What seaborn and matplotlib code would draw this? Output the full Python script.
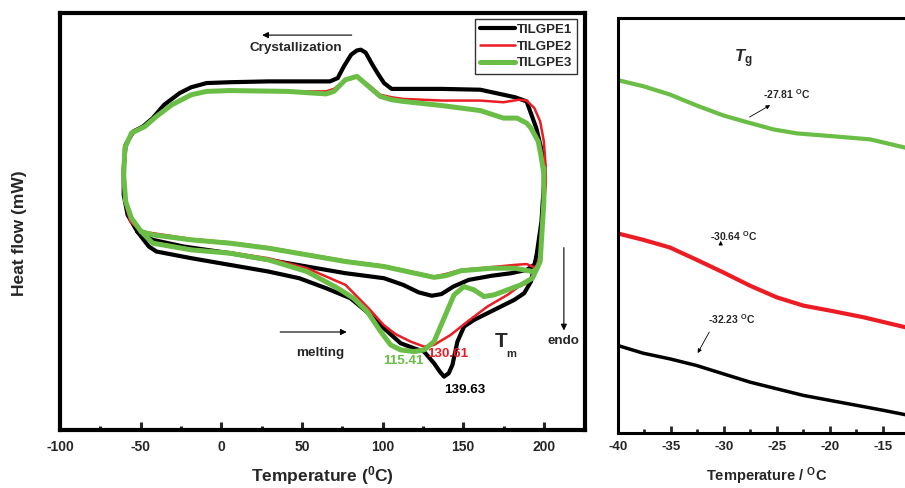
import numpy as np
import pandas as pd
import matplotlib
matplotlib.use("Agg")
import matplotlib.pyplot as plt
import seaborn as sns
from matplotlib.lines import Line2D
from matplotlib.ticker import MultipleLocator

# ---------------- data (left panel: DSC loops) ----------------
series_names = ["TILGPE1", "TILGPE2", "TILGPE3"]
series_colors = ["#000000", "#ec1c24", "#6abd45"]
series_widths = [3.0, 1.8, 3.6]

# TILGPE1
t1_cool = [200.0, 198.8, 195.3, 189.3, 182.1, 160.6, 136.7, 115.2, 105.6, 100.9, 97.0, 93.7,
           89.5, 86.5, 84.0, 80.5, 76.0, 72.2, 67.4, 48.3, 29.2, 5.3, -9.1, -18.6, -25.8,
           -35.4, -42.5, -48.5, -54.5, -59.3, -60.5, -60.5, -58.1, -52.1]
hf1_cool = [6.28, 6.68, 7.24, 7.88, 7.98, 8.16, 8.18, 8.18, 8.18, 8.32, 8.55, 8.76,
            9.05, 9.12, 9.10, 9.00, 8.72, 8.44, 8.36, 8.36, 8.36, 8.34, 8.32, 8.22, 8.08,
            7.80, 7.48, 7.28, 7.16, 6.84, 6.28, 5.64, 5.16, 4.76]
t1_heat_a = [-52.1, -44.9, -40.2, -18.6, 5.3, 29.2, 48.3, 65.0, 80.1, 91.3, 100.8, 111.2,
             119.5, 125.7, 131.9, 135.5, 138.1, 141.0, 143.3, 146.4, 150.5, 156.7, 165.0,
             173.3, 181.6, 187.8, 192.0, 195.5, 198.5, 200.0, 200.0]
hf1_heat_a = [4.76, 4.40, 4.28, 4.12, 3.96, 3.80, 3.64, 3.40, 3.16, 2.80, 2.44, 2.08,
              1.96, 1.88, 1.60, 1.40, 1.28, 1.36, 1.56, 2.12, 2.48, 2.64, 2.80,
              2.96, 3.12, 3.28, 3.56, 4.20, 5.00, 5.88, 6.28]
t1_heat_b = [-52.1, -42.5, -23.4, 5.3, 29.2, 53.1, 77.0, 100.9, 112.8, 122.4, 130.5, 136.5,
             143.9, 153.4, 167.8, 179.7, 189.3, 194.8, 195.3]
hf1_heat_b = [4.76, 4.56, 4.40, 4.24, 4.08, 3.92, 3.76, 3.64, 3.48, 3.30, 3.22, 3.26,
              3.44, 3.60, 3.70, 3.76, 3.84, 3.98, 4.15]

# TILGPE2
t2_cool = [201.2, 200.0, 197.7, 194.1, 189.3, 184.5, 174.9, 160.6, 136.7, 112.8, 105.6, 98.5,
           91.3, 84.1, 77.0, 69.8, 65.0, 41.1, 5.3, -9.1, -18.6, -30.6, -40.2, -47.3, -55.7,
           -59.8, -60.8, -59.8, -56.5, -49.7]
hf2_cool = [6.28, 6.92, 7.40, 7.72, 7.90, 7.92, 7.86, 7.90, 7.90, 7.94, 7.98, 8.04,
            8.28, 8.48, 8.38, 8.18, 8.12, 8.12, 8.14, 8.12, 8.04, 7.80, 7.52, 7.28, 7.12,
            6.76, 6.12, 5.48, 5.00, 4.76]
t2_heat_a = [-49.7, -42.5, -18.6, 5.3, 29.2, 53.1, 77.0, 91.3, 100.6, 108.0, 117.4, 125.7,
             131.9, 142.2, 152.6, 165.0, 177.4, 184.5, 189.5, 194.0, 197.5, 201.2, 201.2]
hf2_heat_a = [4.76, 4.50, 4.34, 4.26, 4.12, 3.88, 3.48, 2.92, 2.52, 2.30, 2.12, 2.00,
              2.04, 2.28, 2.60, 2.96, 3.24, 3.44, 3.52, 3.70, 4.20, 5.88, 6.28]
t2_heat_b = [-49.7, -42.5, -18.6, 5.3, 29.2, 53.1, 77.0, 100.9, 120.0, 131.9, 139.1, 148.7,
             160.6, 182.1, 189.3, 194.1, 196.0]
hf2_heat_b = [4.76, 4.72, 4.58, 4.50, 4.38, 4.22, 4.06, 3.94, 3.78, 3.68, 3.74, 3.84,
              3.88, 3.96, 3.98, 3.90, 3.96]

# TILGPE3
t3_cool = [200.0, 199.8, 198.1, 196.5, 192.0, 189.3, 183.3, 174.9, 160.6, 136.7, 112.8, 105.6,
           98.5, 91.3, 84.1, 77.0, 69.8, 65.0, 41.1, 5.3, -9.1, -18.6, -30.6, -40.2, -47.3,
           -55.7, -59.8, -60.5, -59.3, -55.7, -49.7]
hf3_cool = [6.28, 6.20, 6.60, 6.92, 7.24, 7.36, 7.48, 7.48, 7.66, 7.78, 7.88, 7.92,
            8.00, 8.24, 8.48, 8.40, 8.12, 8.06, 8.12, 8.14, 8.12, 8.04, 7.80, 7.52, 7.28,
            7.12, 6.76, 6.12, 5.48, 5.08, 4.76]
t3_heat_a = [-49.7, -42.5, -18.6, 5.3, 29.2, 53.1, 72.2, 82.0, 90.5, 98.8, 105.0, 111.2,
             119.5, 125.7, 131.9, 138.1, 144.3, 150.5, 156.7, 162.9, 169.1, 177.4, 185.7,
             192.9, 197.7, 200.0, 200.0]
hf3_heat_a = [4.76, 4.48, 4.32, 4.24, 4.08, 3.80, 3.40, 3.16, 2.84, 2.36, 2.04, 1.92,
              1.88, 1.92, 2.12, 2.68, 3.24, 3.44, 3.36, 3.20, 3.24, 3.36, 3.48,
              3.64, 4.04, 5.48, 6.28]
t3_heat_b = [-49.7, -42.5, -18.6, 5.3, 29.2, 53.1, 77.0, 100.9, 120.0, 131.9, 139.1, 148.7,
             167.8, 182.1, 192.9, 195.5]
hf3_heat_b = [4.76, 4.68, 4.56, 4.48, 4.36, 4.20, 4.04, 3.92, 3.76, 3.66, 3.70, 3.82,
              3.88, 3.88, 3.80, 3.86]

# ---------------- data (right panel: Tg region) ----------------
tg_t_black = [-40.0, -37.63, -35.11, -32.58, -30.06, -27.53, -25.01, -22.48, -19.96, -17.43, -14.91, -12.85]
tg_hf_black = [2.63, 2.40, 2.23, 2.03, 1.78, 1.53, 1.33, 1.13, 0.98, 0.83, 0.68, 0.55]
tg_t_red = [-40.0, -37.63, -35.11, -32.58, -30.06, -27.53, -25.01, -22.48, -19.96, -16.80, -12.85]
tg_hf_red = [6.00, 5.81, 5.58, 5.21, 4.83, 4.43, 4.08, 3.83, 3.68, 3.48, 3.18]
tg_t_green = [-40.0, -37.63, -35.11, -32.58, -30.06, -27.85, -25.32, -23.11, -19.96, -16.17, -12.85]
tg_hf_green = [10.61, 10.43, 10.18, 9.85, 9.55, 9.35, 9.13, 9.01, 8.93, 8.83, 8.58]

tm_labels = ["139.63", "130.61", "115.41"]
tg_labels = ["-32.23", "-30.64", "-27.81"]

# ---------------- build tables ----------------
segs = {
    "TILGPE1": [("cool", t1_cool, hf1_cool), ("heat_a", t1_heat_a, hf1_heat_a), ("heat_b", t1_heat_b, hf1_heat_b)],
    "TILGPE2": [("cool", t2_cool, hf2_cool), ("heat_a", t2_heat_a, hf2_heat_a), ("heat_b", t2_heat_b, hf2_heat_b)],
    "TILGPE3": [("cool", t3_cool, hf3_cool), ("heat_a", t3_heat_a, hf3_heat_a), ("heat_b", t3_heat_b, hf3_heat_b)],
}
rows = []
for s in series_names:
    for seg, ts, hs in segs[s]:
        for i, (t, h) in enumerate(zip(ts, hs)):
            rows.append(dict(series=s, segment=seg, order=i, T=t, HF=h))
dsc = pd.DataFrame(rows)

tg_rows = []
for s, ts, hs in [("TILGPE1", tg_t_black, tg_hf_black), ("TILGPE2", tg_t_red, tg_hf_red),
                  ("TILGPE3", tg_t_green, tg_hf_green)]:
    for t, h in zip(ts, hs):
        tg_rows.append(dict(series=s, T=t, HF=h))
tgdf = pd.DataFrame(tg_rows)

# ---------------- style ----------------
sns.set_theme(style="ticks")
plt.rcParams["font.family"] = ["Liberation Sans", "DejaVu Sans"]
plt.rcParams["font.weight"] = "bold"
plt.rcParams["axes.unicode_minus"] = False
plt.rcParams["mathtext.fontset"] = "custom"
plt.rcParams["mathtext.rm"] = "Liberation Sans:bold"
plt.rcParams["mathtext.bf"] = "Liberation Sans:bold"
plt.rcParams["mathtext.it"] = "Liberation Sans:italic:bold"
plt.rcParams["lines.solid_joinstyle"] = "round"
plt.rcParams["lines.solid_capstyle"] = "round"

W, H = 905, 488
fig = plt.figure(figsize=(W / 100, H / 100), dpi=100)
fig.patch.set_facecolor("white")

# left axes: pixel frame 60..585 x, 13..430 y
axL = fig.add_axes([60 / W, 1 - 430 / H, (585 - 60) / W, (430 - 13) / H])
# right axes: starts at 618 px; extends past figure edge
axR = fig.add_axes([618 / W, 1 - 433 / H, (925 - 618) / W, (433 - 18) / H])

# ---- left panel ----
for s, c, lw in zip(series_names, series_colors, series_widths):
    sub = dsc[dsc.series == s]
    sns.lineplot(data=sub, x="T", y="HF", units="segment", estimator=None, sort=False,
                 color=c, linewidth=lw, ax=axL, legend=False)

axL.set_xlim(-100, 225.5)
axL.set_ylim(0, 10)
axL.set_yticks([])
axL.xaxis.set_major_locator(MultipleLocator(50))
axL.xaxis.set_minor_locator(MultipleLocator(25))
axL.tick_params(axis="x", which="major", direction="in", length=6, width=2.2,
                labelsize=10, pad=7, top=False)
axL.tick_params(axis="x", which="minor", direction="in", length=3, width=2.2, top=False)
for lab in axL.get_xticklabels():
    lab.set_fontweight("bold")
for sp in axL.spines.values():
    sp.set_linewidth(3.0)
    sp.set_color("black")
    sp.set_visible(True)
axL.set_xlabel(r"Temperature ($^{\mathbf{0}}$C)", fontsize=12.5, fontweight="bold")
axL.xaxis.set_label_coords(0.5, -0.082)
axL.set_ylabel("Heat flow (mW)", fontsize=12.5, fontweight="bold")
axL.yaxis.set_label_coords(-0.063, 0.472)

handles = [Line2D([0], [0], color=c, lw=lw) for c, lw in zip(series_colors, series_widths)]
leg = axL.legend(handles, series_names, loc="upper right", bbox_to_anchor=(0.985, 0.986),
                 frameon=True, fancybox=False, edgecolor="black", handlelength=2.7,
                 handletextpad=0.15, labelspacing=0.35, borderpad=0.35, borderaxespad=0.0,
                 prop=dict(size=9.5, weight="bold"))
leg.get_frame().set_linewidth(1.0)

arrow_kw = dict(arrowstyle="-|>", color="black", lw=0.8, mutation_scale=9)
axL.annotate("", xy=(23.6, 9.47), xytext=(82.6, 9.47), arrowprops=arrow_kw)
axL.text(46.3, 9.17, "Crystallization", ha="center", va="center", fontsize=9.7, fontweight="bold")
axL.annotate("", xy=(79.5, 2.35), xytext=(34.8, 2.35), arrowprops=arrow_kw)
axL.text(61.5, 1.85, "melting", ha="center", va="center", fontsize=9.7, fontweight="bold")
axL.text(113.0, 1.66, tm_labels[2], ha="center", va="center", fontsize=9.6,
         fontweight="bold", color=series_colors[2])
axL.text(140.4, 1.82, tm_labels[1], ha="center", va="center", fontsize=9.6,
         fontweight="bold", color=series_colors[1])
axL.text(151.2, 0.96, tm_labels[0], ha="center", va="center", fontsize=9.6,
         fontweight="bold", color=series_colors[0])
axL.text(173.3, 2.12, "T", ha="center", va="center", fontsize=15, fontweight="bold")
axL.text(179.8, 1.82, "m", ha="center", va="center", fontsize=8, fontweight="bold")
axL.annotate("", xy=(212.4, 2.32), xytext=(212.4, 4.44), arrowprops=arrow_kw)
axL.text(212.4, 2.13, "endo", ha="center", va="center", fontsize=9.6, fontweight="bold")

# ---- right panel ----
tg_widths = [2.5, 3.0, 3.0]
for s, c, lw in zip(series_names, series_colors, tg_widths):
    sub = tgdf[tgdf.series == s]
    sns.lineplot(data=sub, x="T", y="HF", estimator=None, sort=False, color=c,
                 linewidth=lw, ax=axR, legend=False)
axR.set_xlim(-40, -11)
axR.set_ylim(0, 12.48)
axR.set_yticks([])
axR.set_ylabel("")
axR.xaxis.set_major_locator(MultipleLocator(5))
axR.xaxis.set_minor_locator(MultipleLocator(2.5))
axR.tick_params(axis="x", which="major", direction="in", length=5, width=2.0,
                labelsize=9.5, pad=6, top=False)
axR.tick_params(axis="x", which="minor", direction="in", length=3, width=2.0, top=False)
for lab in axR.get_xticklabels():
    lab.set_fontweight("bold")
for name, sp in axR.spines.items():
    sp.set_linewidth(2.2)
    sp.set_color("black")
axR.spines["right"].set_visible(False)
axR.set_xlabel(r"Temperature / $^{\mathbf{O}}$C", fontsize=10.5, fontweight="bold")
axR.xaxis.set_label_coords(0.485, -0.078)

axR.text(-28.2, 11.25, r"$T_{\mathrm{g}}$", ha="center", va="center", fontsize=12)
small_kw = dict(arrowstyle="-|>", color="black", lw=0.6, mutation_scale=6)
axR.text(-24.1, 10.2, tg_labels[2] + r" $^{\mathbf{O}}$C", ha="center", va="center", fontsize=7.5)
axR.annotate("", xy=(-25.4, 9.90), xytext=(-27.8, 9.46), arrowprops=small_kw)
axR.text(-29.1, 5.93, tg_labels[1] + r" $^{\mathbf{O}}$C", ha="center", va="center", fontsize=7.5)
axR.annotate("", xy=(-30.3, 5.78), xytext=(-30.3, 5.62), arrowprops=small_kw)
axR.text(-29.3, 3.43, tg_labels[0] + r" $^{\mathbf{O}}$C", ha="center", va="center", fontsize=7.5)
axR.annotate("", xy=(-32.6, 2.33), xytext=(-31.25, 3.11), arrowprops=small_kw)

fig.savefig("out.png", dpi=100, facecolor="white")
